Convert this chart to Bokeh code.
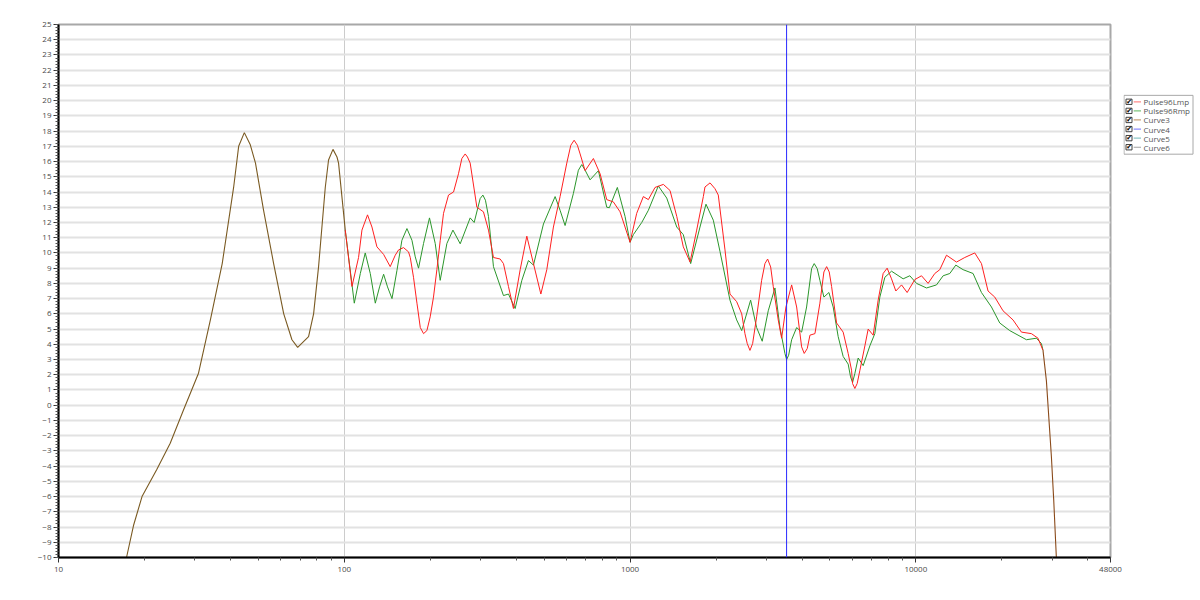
from bokeh.plotting import figure
from bokeh.layouts import row
from bokeh.models import (Range1d, FixedTicker, SingleIntervalTicker, CustomJSTickFormatter, Span)
from bokeh.core.properties import value
from bokeh.embed import file_html
from bokeh.resources import INLINE

# ---------------- data (Hz, dB) ----------------
common_freq = [17.3, 18.3, 19.6, 22.1, 24.6, 27.4, 30.9, 34.0, 37.4, 41.0, 42.7, 44.7, 46.9,
               48.9, 52.2, 56.6, 61.4, 65.6, 68.7, 75.0, 78.1, 81.3, 85.8, 88.1, 91.3, 94.3,
               95.5, 100.8]
common_db = [-10.0, -7.9, -6.0, -4.2, -2.5, -0.3, 2.1, 5.6, 9.3, 14.3, 17.0, 17.9, 17.1,
             15.9, 12.8, 9.3, 6.0, 4.3, 3.8, 4.5, 6.0, 9.1, 14.3, 16.1, 16.8, 16.3,
             15.9, 11.5]

left_freq = [106.4, 112.2, 115.3, 120.6, 125.0, 130.1, 137.3, 144.8, 150.8, 154.9, 161.2,
             167.8, 170.2, 174.7, 179.6, 184.5, 189.4, 194.6, 199.8, 205.2, 210.9, 216.6,
             222.5, 231.6, 241.2, 251.0, 257.9, 264.9, 269.8, 275.8, 291.1, 306.9, 319.6,
             332.7, 351.2, 360.6, 375.4, 390.8, 412.6, 435.3, 459.2, 487.4, 511.3, 539.3,
             569.1, 600.7, 620.4, 637.3, 654.3, 668.8, 696.3, 744.3, 785.5, 828.9, 874.2,
             922.6, 1000, 1055, 1113, 1159, 1223, 1308, 1380, 1457, 1536, 1622, 1711, 1805,
             1829, 1905, 1982, 2036, 2149, 2237, 2361, 2459, 2524, 2571, 2628, 2685, 2773,
             2887, 2965, 3030, 3105, 3170, 3300, 3392, 3512, 3677, 3828, 3985, 4069, 4169,
             4261, 4436, 4617, 4768, 4874, 4977, 5073, 5281, 5569, 5798, 5958, 6007, 6119,
             6234, 6373, 6634, 6812, 7092, 7383, 7686, 7937, 8222, 8513, 8913, 9325, 9920,
             10469, 11041, 11652, 12131, 12803, 13876, 14838, 16080, 16970, 17894, 18892,
             20192, 21885, 23424, 25380, 26766]
left_db = [7.8, 9.7, 11.5, 12.5, 11.7, 10.4, 9.9, 9.1, 9.85, 10.2, 10.35,
           10.07, 9.7, 8.4, 6.7, 5.1, 4.7, 4.9, 5.8, 7.1, 8.9, 10.8,
           12.6, 13.8, 14.0, 15.2, 16.2, 16.5, 16.3, 15.9, 13.0, 12.7, 11.5,
           9.7, 9.6, 9.3, 7.8, 6.35, 8.9, 11.1, 9.3, 7.3, 8.9, 11.7,
           13.7, 15.9, 17.07, 17.4, 17.07, 16.5, 15.4, 16.2, 15.2, 13.5, 13.35,
           12.7, 10.7, 12.6, 13.7, 13.5, 14.3, 14.5, 14.1, 12.4, 10.4, 9.4, 11.5, 13.7,
           14.33, 14.6, 14.22, 13.8, 10.2, 7.3, 6.8, 6.0, 4.7, 4.05, 3.6, 4.05, 5.8,
           8.2, 9.3, 9.6, 9.08, 7.8, 5.6, 4.4, 6.45, 7.9, 6.45, 3.83, 3.4, 3.72,
           4.6, 4.7, 6.7, 8.75, 9.1, 8.75, 7.8, 5.4, 4.8, 3.4, 2.3, 1.42, 1.1,
           1.42, 2.3, 3.9, 5.0, 4.6, 6.9, 8.65, 9.0, 8.3, 7.5, 7.9, 7.4, 8.25,
           8.5, 8.0, 8.65, 8.9, 9.85, 9.4, 9.7, 10.0, 9.3, 7.5, 7.1,
           6.2, 5.6, 4.8, 4.7, 4.4]

right_freq = [108.4, 113.8, 118.4, 123.3, 128.4, 132.9, 137.3, 141.7, 146.9, 152.9, 159.1,
              165.7, 172.5, 177.2, 181.9, 189.4, 198.7, 208.1, 216.6, 228.6, 240.0, 254.5,
              275.8, 284.8, 298.9, 305.5, 311.9, 319.6, 332.7, 360.6, 375.4, 396.2, 418.2,
              441.0, 459.2, 497.7, 546.8, 569.1, 592.5, 633.4, 659.5, 677.8, 696.3, 724.6,
              774.9, 828.9, 846.4, 902.8, 960.5, 1000, 1027, 1099, 1159, 1256, 1344, 1457,
              1536, 1630, 1757, 1844, 1956, 2064, 2237, 2361, 2459, 2642, 2773, 2901, 3045,
              3214, 3346, 3484, 3531, 3589, 3677, 3828, 3985, 4148, 4318, 4410, 4518, 4617,
              4768, 4964, 5138, 5350, 5569, 5798, 5911, 6007, 6119, 6285, 6543, 6906, 7188,
              7484, 7792, 8222, 9029, 9528, 10056, 10899, 11813, 12461, 13152, 13800, 14638,
              15862, 16970, 18394, 19663, 21313, 24384, 26424, 27510]
right_db = [6.7, 8.65, 10.0, 8.65, 6.7, 7.77, 8.6, 7.77, 7.0, 8.86, 10.83,
            11.6, 10.83, 9.74, 9.0, 10.62, 12.3, 10.62, 8.2, 10.62, 11.5, 10.6,
            12.3, 12.0, 13.57, 13.8, 13.46, 12.4, 9.1, 7.2, 7.3, 6.35, 8.2,
            9.5, 9.2, 11.9, 13.7, 12.8, 11.8, 13.9, 15.43, 15.8, 15.43, 14.8,
            15.4, 13.0, 12.97, 14.3, 12.4, 10.7, 11.2, 12.0, 12.8, 14.4, 13.6, 11.7,
            11.2, 9.3, 11.7, 13.2, 12.15, 10.1, 6.9, 5.6, 4.9, 6.9, 5.1, 4.2, 6.2,
            7.7, 5.1, 3.39, 3.0, 3.28, 4.3, 5.1, 4.8, 6.45, 8.97, 9.3, 8.97, 8.2,
            7.1, 7.4, 6.45, 4.5, 3.2, 2.7, 1.86, 1.5, 2.08, 3.1, 2.6, 3.9, 4.7,
            7.1, 8.4, 8.8, 8.3, 8.5, 8.0, 7.7, 7.9, 8.5, 8.65, 9.2, 8.9,
            8.65, 7.4, 6.45, 5.4, 4.9, 4.3, 4.4, 4.05]

tail_freq = [27866, 28640, 29246, 29818, 30374, 31046]
tail_db = [3.6, 1.6, -1.0, -3.4, -6.2, -10.1]

cursor_freq = 3530
series_names = ["Pulse96Lmp", "Pulse96Rmp", "Curve3", "Curve4", "Curve5", "Curve6"]
legend_colors = ["#ff8a8a", "#7cc47c", "#c8a078", "#8c8cff", "#8cc8c8", "#a0a0a0"]
x_major = [10, 100, 1000, 10000, 48000]

FONT = "Open Sans"
H = 598

# ---------------- main chart ----------------
p = figure(width=1123, height=H, x_axis_type="log",
           x_range=Range1d(10, 48000), y_range=Range1d(-10, 25),
           output_backend="svg", toolbar_location=None,
           min_border_left=58, min_border_right=13, min_border_top=24, min_border_bottom=41)
p.background_fill_color = "white"
p.border_fill_color = "white"
p.outline_line_color = "#a8a8a8"
p.outline_line_width = 2

x_minor = [m * 10 ** e for e in range(1, 5) for m in range(2, 10) if m * 10 ** e < 48000]
p.xaxis.ticker = FixedTicker(ticks=x_major, minor_ticks=x_minor)
p.xaxis.formatter = CustomJSTickFormatter(code="return tick.toFixed(0);")
p.yaxis.ticker = SingleIntervalTicker(interval=1, num_minor_ticks=5)
for ax in (p.xaxis[0], p.yaxis[0]):
    ax.axis_line_color = "black"
    ax.axis_line_width = 2
    ax.major_tick_line_color = "#333333"
    ax.minor_tick_line_color = "#555555"
    ax.major_tick_in = 0
    ax.minor_tick_in = 0
    ax.major_label_text_font = FONT
    ax.major_label_text_font_size = "8px"
    ax.major_label_text_color = "#4a4a4a"
p.yaxis.major_tick_out = 5
p.yaxis.minor_tick_out = 3
p.yaxis.major_label_standoff = 2
p.xaxis.major_tick_out = 5
p.xaxis.minor_tick_out = 3
p.xaxis.major_label_standoff = 4

p.ygrid.ticker = SingleIntervalTicker(interval=1)
p.ygrid.grid_line_color = "#e2e2e2"
p.ygrid.grid_line_width = 2
p.xgrid.ticker = FixedTicker(ticks=[100, 1000, 10000])
p.xgrid.grid_line_color = "#cccccc"
p.xgrid.grid_line_width = 1

# curves: left / right channel, overlapping stretches drawn in the blended colour
p.line(common_freq[-1:] + right_freq + tail_freq[:1],
       common_db[-1:] + right_db + tail_db[:1], line_color="#2b962b", line_width=1)
p.line(common_freq[-1:] + left_freq + tail_freq[:1],
       common_db[-1:] + left_db + tail_db[:1], line_color="#ff2020", line_width=1)
p.line(common_freq, common_db, line_color="#7a5a22", line_width=1.1)
p.line(tail_freq, tail_db, line_color="#8a4a1a", line_width=1.1)

p.add_layout(Span(location=cursor_freq, dimension="height", line_color="#2a2aff", line_width=1))

# ---------------- legend panel (right side) ----------------
leg = figure(width=1198 - 1123, height=H, x_range=Range1d(1123, 1198), y_range=Range1d(H, 0),
             output_backend="svg", toolbar_location=None,
             x_axis_location=None, y_axis_location=None,
             min_border_left=0, min_border_right=0, min_border_top=0, min_border_bottom=0)
leg.grid.visible = False
leg.outline_line_color = None
leg.background_fill_color = "white"
leg.border_fill_color = "white"

leg.quad(left=[1123.5], right=[1192.5], top=[79.5], bottom=[145.5],
         fill_color="white", line_color="#a8a8a8", line_width=1)
row_y = [86.7 + 10.2 * i for i in range(len(series_names))]
leg.quad(left=[1125.5] * 6, right=[1131.5] * 6,
         top=[y - 3 for y in row_y], bottom=[y + 3 for y in row_y],
         fill_color="white", line_color="#404040", line_width=1)
leg.text(x=[1128.6] * 6, y=[y + 0.2 for y in row_y], text=["\u2714"] * 6,
         text_font=value("DejaVu Sans"), text_font_size="7px", text_color="black",
         text_align="center", text_baseline="middle")
leg.segment(x0=[1133.2] * 6, x1=[1140.5] * 6, y0=row_y, y1=row_y,
            line_color=legend_colors, line_width=1.2)
leg.text(x=[1143] * 6, y=row_y, text=series_names,
         text_font=value(FONT), text_font_size="8px", text_color="#555555",
         text_align="left", text_baseline="middle")

layout = row(p, leg, spacing=0)
open("out.html", "w").write(file_html(layout, INLINE))
